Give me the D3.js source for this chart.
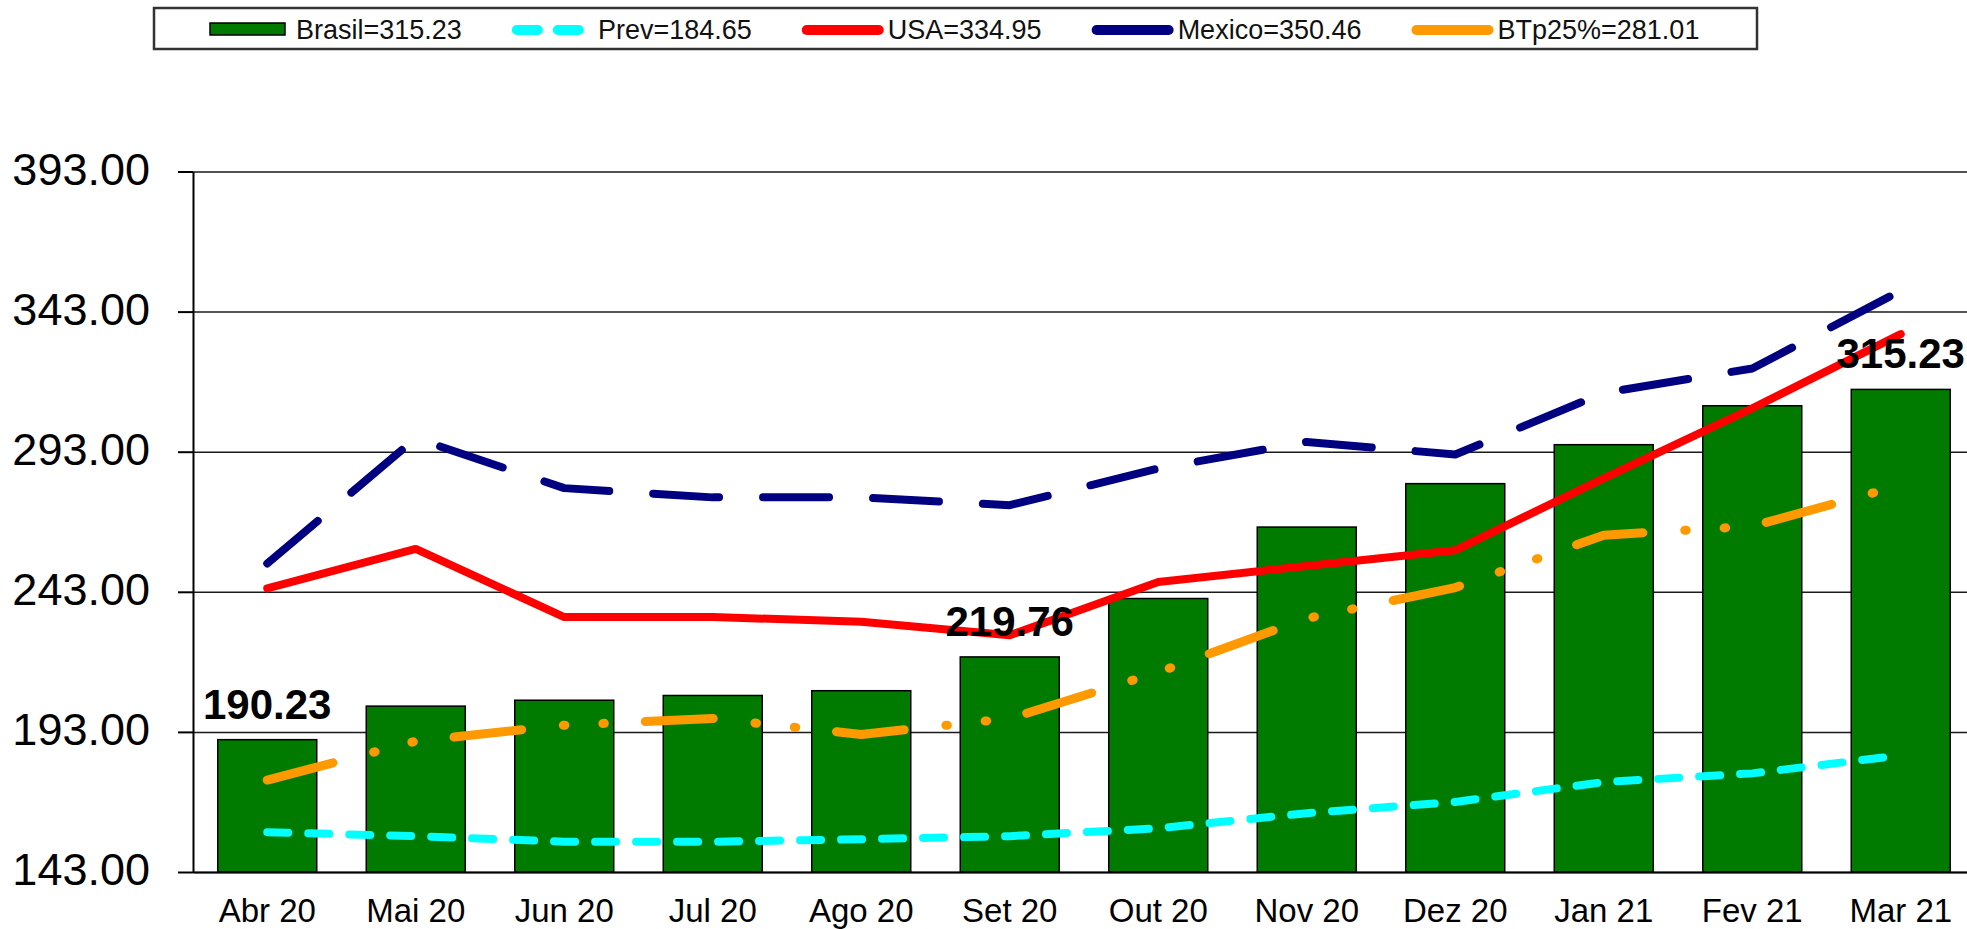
<!DOCTYPE html>
<html>
<head>
<meta charset="utf-8">
<script src="https://cdn.jsdelivr.net/npm/d3@7"></script>
<style>
    body { margin: 0; background: #fff; }
    svg { display: block; font-family: "Liberation Sans", Arial, sans-serif; }
</style>
</head>
<body>
<div id="chart"></div>
<script>
// data
const months = ['Abr 20', 'Mai 20', 'Jun 20', 'Jul 20', 'Ago 20', 'Set 20',
                'Out 20', 'Nov 20', 'Dez 20', 'Jan 21', 'Fev 21', 'Mar 21'];
const brasil = [190.23, 202.2, 204.3, 206.0, 207.7, 219.76, 240.6, 266.1, 281.6, 295.5, 309.4, 315.23];
const prev   = [157.2, 155.8, 153.8, 153.8, 154.7, 155.8, 158.6, 164.0, 168.0, 175.1, 178.2, 184.65];
const usa    = [244.2, 258.3, 234.0, 234.0, 232.3, 227.5, 246.5, 252.2, 257.8, 283.5, 308.5, 334.95];
const mexico = [253.1, 297.8, 280.0, 276.7, 276.7, 273.9, 287.0, 296.5, 292.0, 314.0, 322.7, 350.46];
const btp25  = [175.8, 189.7, 195.4, 197.8, 192.1, 197.8, 214.3, 233.5, 244.5, 263.2, 266.4, 281.01];
const yTicks = [143, 193, 243, 293, 343, 393];
const labelledMonths = ['Abr 20', 'Set 20', 'Mar 21'];
const legendItems = [
    { name: 'Brasil', value: '315.23' },
    { name: 'Prev', value: '184.65' },
    { name: 'USA', value: '334.95' },
    { name: 'Mexico', value: '350.46' },
    { name: 'BTp25%', value: '281.01' }
];

const width = 1967, height = 929;
const plot = { left: 193, right: 1975, top: 171.5, bottom: 872 };

const svg = d3.select('#chart').append('svg')
    .attr('width', width)
    .attr('height', height);

svg.append('rect').attr('width', width).attr('height', height).attr('fill', '#fff');

const x = d3.scaleBand()
    .domain(months)
    .range([plot.left, plot.right])
    .paddingInner(1 / 3)
    .paddingOuter(1 / 6);

const y = d3.scaleLinear()
    .domain([143, 393])
    .range([plot.bottom, plot.top]);

const cx = m => x(m) + x.bandwidth() / 2;

// gridlines
svg.append('g')
    .attr('class', 'grid')
    .attr('transform', `translate(${plot.left},0)`)
    .call(d3.axisLeft(y).tickValues(yTicks).tickSize(-(plot.right - plot.left)).tickFormat(''))
    .call(g => g.select('.domain').remove())
    .call(g => g.selectAll('line').attr('stroke', '#1a1a1a').attr('stroke-width', 1.5));

// bars
svg.append('g')
    .selectAll('rect')
    .data(brasil)
    .join('rect')
    .attr('x', (d, i) => x(months[i]))
    .attr('y', d => y(d))
    .attr('width', x.bandwidth())
    .attr('height', d => y(143) - y(d))
    .attr('fill', '#007b00')
    .attr('stroke', '#000')
    .attr('stroke-width', 1.5);

// axes
svg.append('g')
    .attr('transform', `translate(0,${plot.bottom})`)
    .call(d3.axisBottom(x).tickSize(0).tickSizeOuter(0).tickPadding(27))
    .call(g => g.select('.domain').attr('stroke', '#000').attr('stroke-width', 2))
    .call(g => g.selectAll('text')
        .attr('font-size', 33)
        .attr('font-family', '"Liberation Sans", Arial, sans-serif')
        .attr('fill', '#000'));

svg.append('g')
    .attr('transform', `translate(${plot.left},0)`)
    .call(d3.axisLeft(y).tickValues(yTicks).tickSize(15).tickSizeOuter(0)
        .tickPadding(28).tickFormat(d3.format('.2f')))
    .call(g => g.select('.domain').attr('stroke', '#000').attr('stroke-width', 2))
    .call(g => g.selectAll('.tick line').attr('stroke', '#000').attr('stroke-width', 2))
    .call(g => g.selectAll('text')
        .attr('font-size', 45)
        .attr('dy', '0.28em')
        .attr('font-family', '"Liberation Sans", Arial, sans-serif')
        .attr('fill', '#000'));

// lines
const series = [
    { values: prev,   color: '#00ffff', dash: '21 20', w: 8 },
    { values: usa,    color: '#ff0000', dash: null, w: 8 },
    { values: mexico, color: '#000080', dash: '66 44', w: 8 },
    { values: btp25,  color: '#ff9900', dash: '68 42 1.5 38 1.5 41', w: 9 }
];

const line = d3.line()
    .x((d, i) => cx(months[i]))
    .y(d => y(d));

series.forEach(s => {
    svg.append('path')
        .datum(s.values)
        .attr('d', line)
        .attr('fill', 'none')
        .attr('stroke', s.color)
        .attr('stroke-width', s.w)
        .attr('stroke-linecap', 'round')
        .attr('stroke-linejoin', 'round')
        .attr('stroke-dasharray', s.dash);
});

// value labels
svg.append('g')
    .selectAll('text')
    .data(months.map((m, i) => ({ m, v: brasil[i] })).filter(d => labelledMonths.includes(d.m)))
    .join('text')
    .attr('x', d => cx(d.m))
    .attr('y', d => y(d.v) - 21)
    .attr('text-anchor', 'middle')
    .attr('font-size', 42)
    .attr('font-weight', 'bold')
    .attr('fill', '#000')
    .text(d => d.v.toFixed(2));

// legend
svg.append('rect')
    .attr('x', 154)
    .attr('y', 8)
    .attr('width', 1603)
    .attr('height', 41)
    .attr('fill', '#fff')
    .attr('stroke', '#333')
    .attr('stroke-width', 2.5);

let lx = 210;
legendItems.forEach((item, i) => {
    if (i === 0) {
        svg.append('rect')
            .attr('x', lx).attr('y', 23)
            .attr('width', 75).attr('height', 12)
            .attr('fill', '#007b00')
            .attr('stroke', '#000')
            .attr('stroke-width', 1.5);
    } else {
        const s = series[i - 1];
        svg.append('line')
            .attr('x1', lx + 5).attr('x2', lx + 77)
            .attr('y1', 30).attr('y2', 30)
            .attr('stroke', s.color)
            .attr('stroke-width', 10)
            .attr('stroke-linecap', 'round')
            .attr('stroke-dasharray', i === 1 ? '21 20' : null);
    }
    const t = svg.append('text')
        .attr('x', lx + 86)
        .attr('y', 39)
        .attr('font-size', 27)
        .attr('fill', '#111')
        .text(`${item.name}=${item.value}`);
    lx = lx + 86 + t.node().getComputedTextLength() + 50;
});
</script>
</body>
</html>
